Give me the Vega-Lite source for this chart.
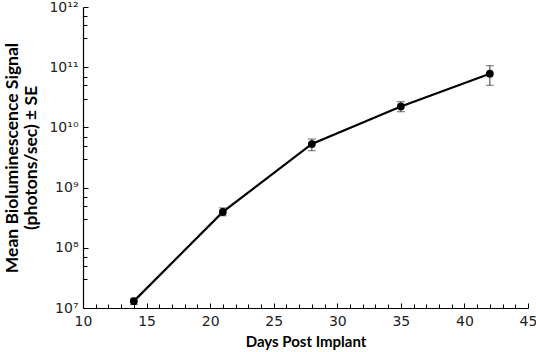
{
  "$schema": "https://vega.github.io/schema/vega-lite/v6.json",
  "autosize": "none",
  "width": 445,
  "height": 301,
  "padding": {"left": 83, "top": 7, "right": 8, "bottom": 44},
  "background": "white",
  "config": {"view": {"stroke": null}, "axis": {"grid": false}},
  "data": {"values": [
    {"day": 14, "signal": 1.3e7, "lo": 1.15e7, "hi": 1.45e7},
    {"day": 21, "signal": 3.95e8, "lo": 3.4e8, "hi": 4.6e8},
    {"day": 28, "signal": 5.3e9, "lo": 4.1e9, "hi": 6.4e9},
    {"day": 35, "signal": 2.23e10, "lo": 1.82e10, "hi": 2.67e10},
    {"day": 42, "signal": 7.8e10, "lo": 5.0e10, "hi": 1.06e11}
  ]},
  "encoding": {
    "x": {"field": "day", "type": "quantitative", "title": "Days Post Implant",
      "scale": {"domain": [10, 45], "nice": false, "zero": false},
      "axis": {"orient": "bottom", "values": [10,11,12,13,14,15,16,17,18,19,20,21,22,23,24,25,26,27,28,29,30,31,32,33,34,35,36,37,38,39,40,41,42,43,44,45],
        "tickCount": 200, "format": "d",
        "titleFont": "Lato", "titleFontSize": 15, "titleFontWeight": "bold", "titleColor": "black", "titlePadding": 5,
        "labelFont": "DejaVu Sans", "labelFontSize": 14, "labelColor": "#222", "labelPadding": 11,
        "labelOverlap": false,
        "labelExpr": "datum.value % 5 == 0 ? '' + datum.value : ''",
        "tickSize": {"condition": {"test": "datum.value % 5 == 0", "value": -5}, "value": -4},
        "tickWidth": 1,
        "tickColor": "black", "domainColor": "black", "domainWidth": 1.2, "labelFlush": false}},
    "y": {"field": "signal", "type": "quantitative", "title": ["Mean Bioluminescence Signal", "(photons/sec) ± SE"],
      "scale": {"type": "log", "domain": [1e7, 1e12], "nice": false},
      "axis": {"orient": "left",
        "values": [1e7,3e7,5e7,7e7,1e8,3e8,5e8,7e8,1e9,3e9,5e9,7e9,1e10,3e10,5e10,7e10,1e11,3e11,5e11,7e11,1e12],
        "tickCount": 200,
        "titleFont": "Lato", "titleFontSize": 17.5, "titleFontWeight": "bold", "titleColor": "black", "titlePadding": 8, "titleLineHeight": 19,
        "labelFont": "DejaVu Sans", "labelFontSize": 14, "labelColor": "#222", "labelPadding": 10,
        "labelOverlap": false,
        "labelExpr": "abs(log(datum.value)/LN10 - round(log(datum.value)/LN10)) < 0.001 ? '10' + ({'7':'⁷','8':'⁸','9':'⁹','10':'¹⁰','11':'¹¹','12':'¹²'})['' + round(log(datum.value)/LN10)] : ''",
        "tickSize": {"condition": {"test": "abs(log(datum.value)/LN10 - round(log(datum.value)/LN10)) < 0.001", "value": -5}, "value": -4},
        "tickWidth": 1,
        "tickColor": "black", "domainColor": "black", "domainWidth": 1.2, "labelFlush": false}}
  },
  "layer": [
    {
      "mark": {"type": "line", "color": "black", "strokeWidth": 2.2}
    },
    {
      "mark": {"type": "errorbar", "ticks": {"size": 8, "color": "#333"}, "rule": {"color": "#333"}, "thickness": 1},
      "encoding": {
        "y": {"field": "lo", "type": "quantitative", "title": ["Mean Bioluminescence Signal", "(photons/sec) ± SE"]},
        "y2": {"field": "hi"}
      }
    },
    {
      "mark": {"type": "point", "filled": true, "color": "black", "size": 60, "opacity": 1}
    }
  ]
}
